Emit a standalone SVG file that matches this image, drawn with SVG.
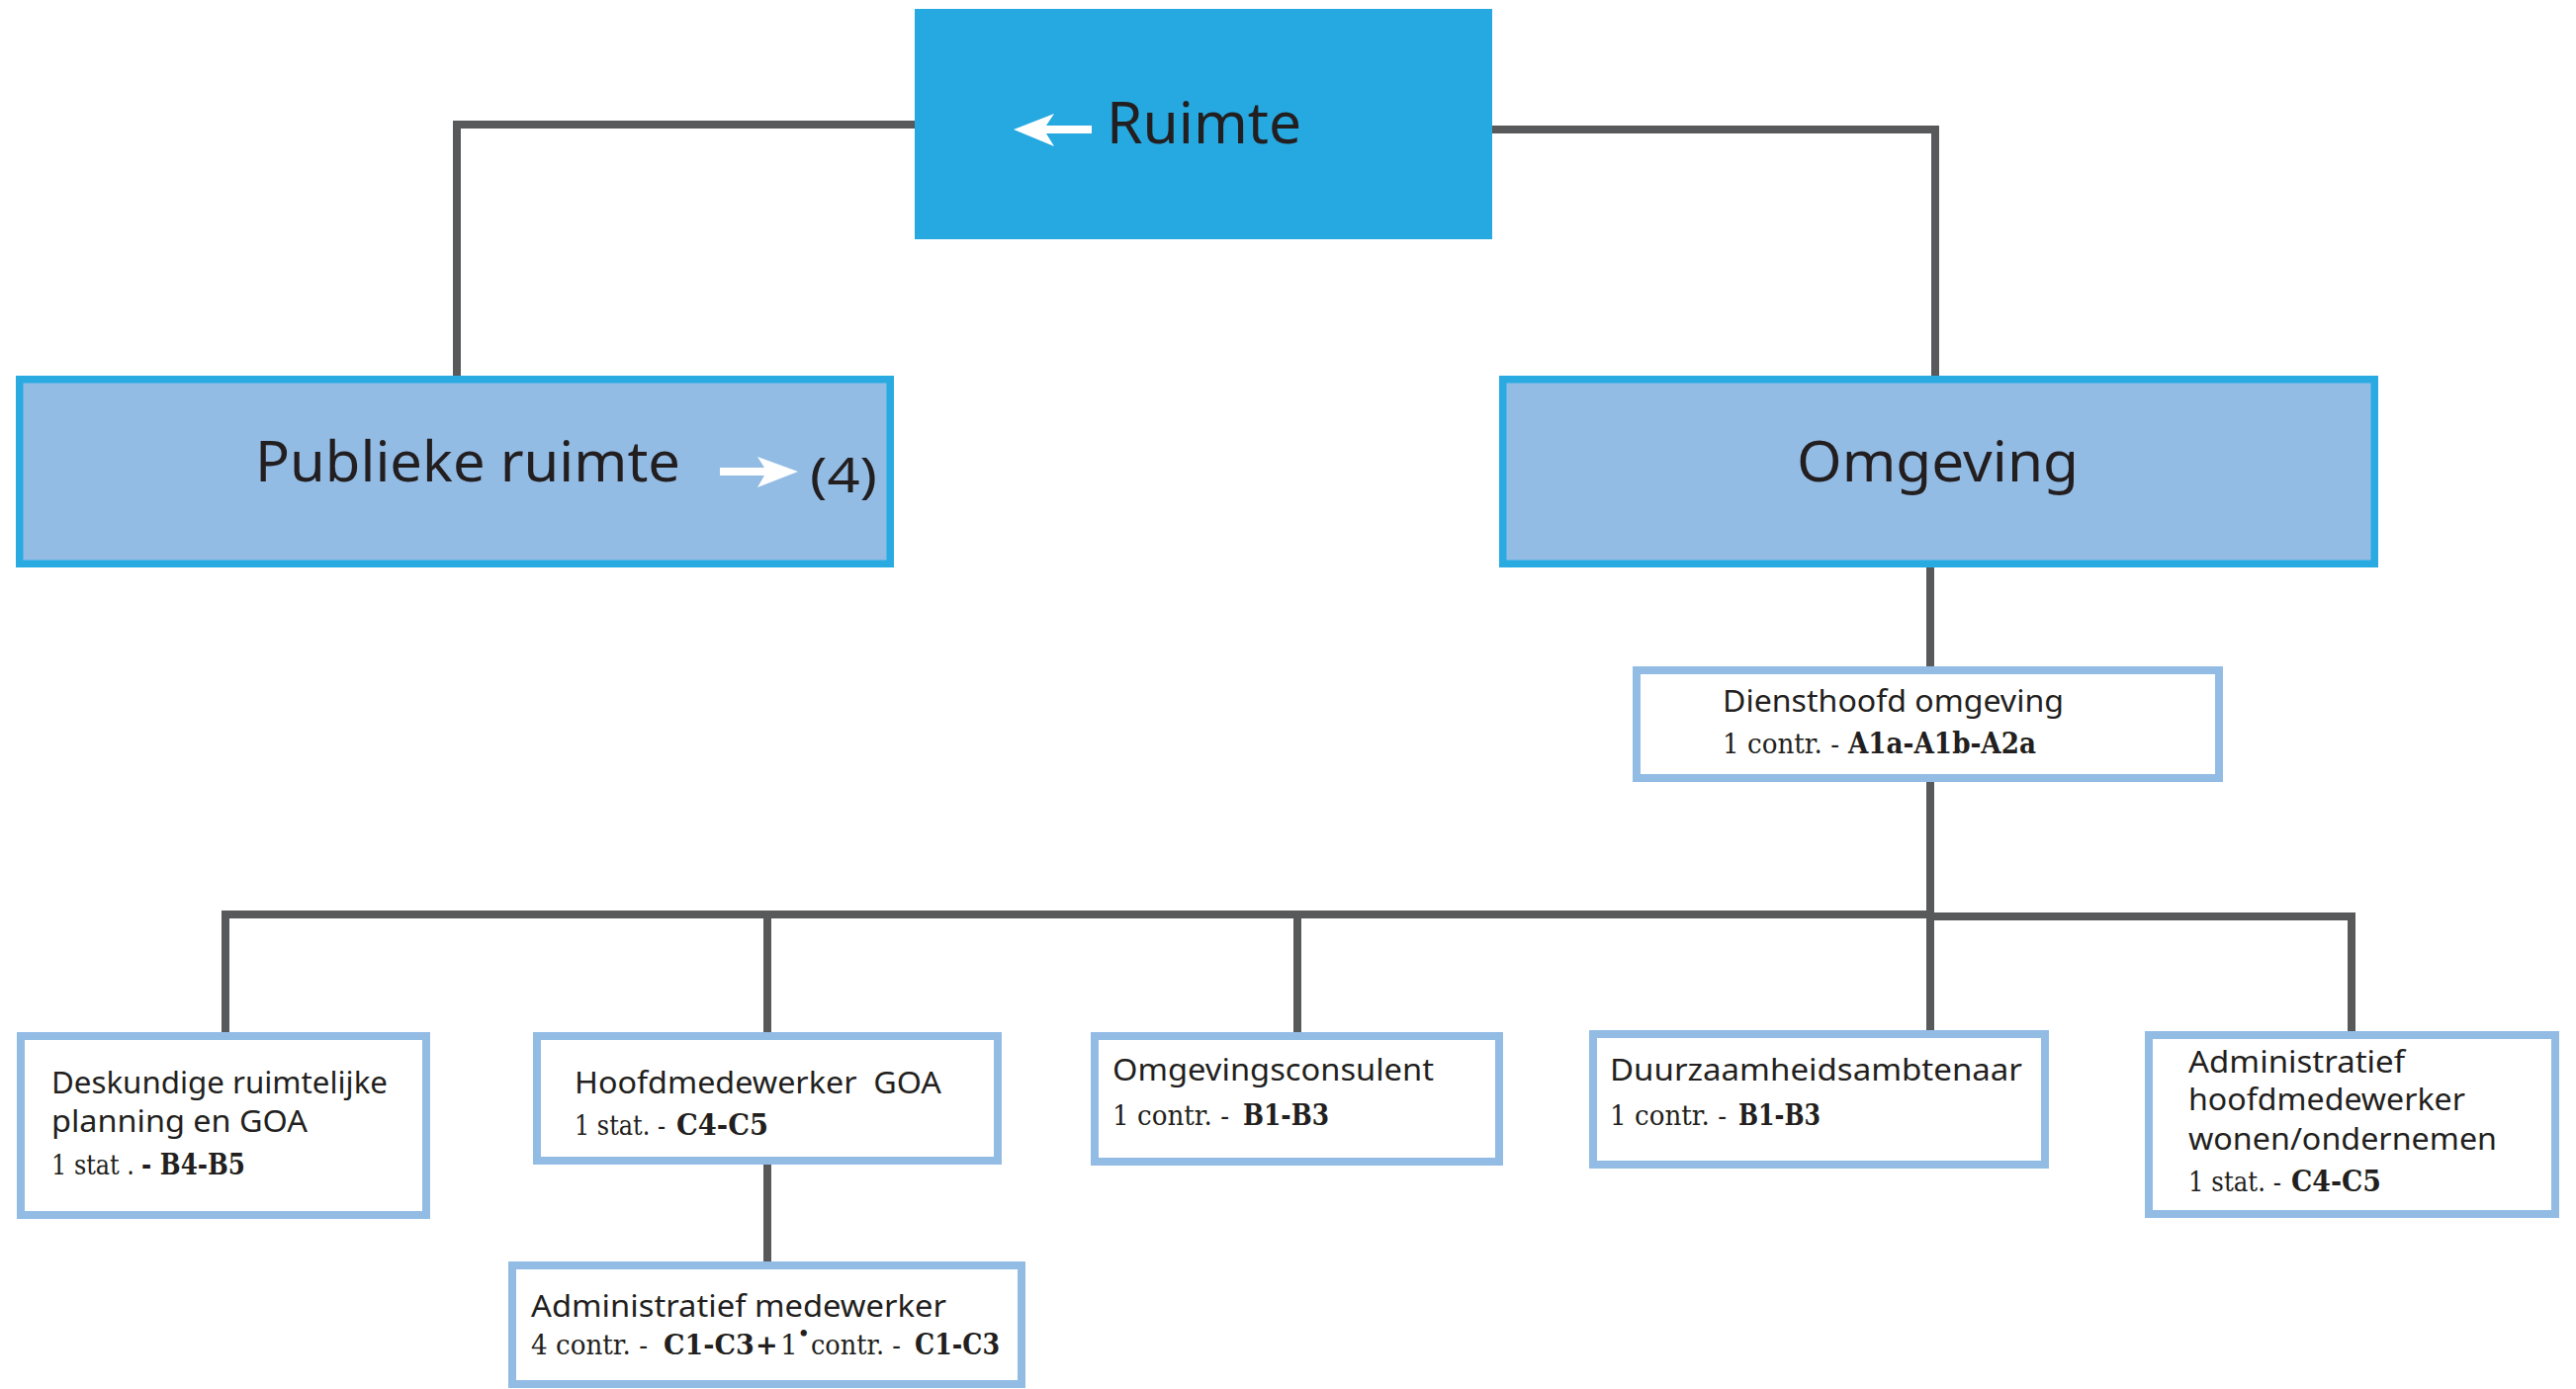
<svg xmlns="http://www.w3.org/2000/svg" width="2605" height="1405" viewBox="0 0 2605 1405">
<style>
.bg{fill:#ffffff}
.conn{fill:none;stroke:#58595B;stroke-width:8;stroke-linecap:butt;stroke-linejoin:miter}
.top{fill:#25A9E0}
.mid{fill:#93BCE5;stroke:#29ABE2;stroke-width:7.5}
.low{fill:#ffffff;stroke:#93BCE5;stroke-width:8}
.arrow{fill:#ffffff}
.big{font-family:"Noto Sans","Liberation Sans",sans-serif;fill:#231F20}
.lab{font-family:"Noto Sans","Liberation Sans",sans-serif;font-size:31px;fill:#231F20}
.ser{font-family:"DejaVu Serif","Liberation Serif",serif;font-size:28px;fill:#231F20}
.b{font-weight:bold;font-size:30px}
</style>
<rect class="bg" x="0" y="0" width="2605" height="1405"/>
<g id="connectors">
<path class="conn" d="M925,126 H462 V380"/>
<path class="conn" d="M1509,131 H1957 V380"/>
<path class="conn" d="M1952,574 V674"/>
<path class="conn" d="M1952,791 V1042"/>
<path class="conn" d="M228,1044 V925 H1952"/>
<path class="conn" d="M776,925 V1044"/>
<path class="conn" d="M1312,925 V1044"/>
<path class="conn" d="M1952,927 H2378 V1043"/>
<path class="conn" d="M776,1178 V1276"/>
</g>
<g id="ruimte">
<rect class="top" x="925" y="9" width="584" height="233"/>
<polygon class="arrow" points="1025,131 1066,115 1058,127 1104,127 1104,135 1058,135 1066,148"/>
<text class="big" x="1119" y="145" font-size="58" textLength="197" lengthAdjust="spacingAndGlyphs">Ruimte</text>
</g>
<g id="publieke-ruimte">
<rect class="mid" x="19.75" y="383.75" width="880.5" height="186.5"/>
<text class="big" x="258" y="487" font-size="56" textLength="430" lengthAdjust="spacingAndGlyphs">Publieke ruimte</text>
<polygon class="arrow" points="728,473 773,473 766,462 807,477 766,493 773,481 728,481"/>
<text class="big" x="819" y="498" font-size="50" textLength="68" lengthAdjust="spacingAndGlyphs">(4)</text>
</g>
<g id="omgeving">
<rect class="mid" x="1519.75" y="383.75" width="881.5" height="186.5"/>
<text class="big" x="1817" y="487" font-size="56" textLength="285" lengthAdjust="spacingAndGlyphs">Omgeving</text>
</g>
<g id="diensthoofd">
<rect class="low" x="1655" y="678" width="589" height="109"/>
<text class="lab" x="1742" y="720" font-size="32" textLength="345" lengthAdjust="spacingAndGlyphs">Diensthoofd omgeving</text>
<text class="ser" y="762"><tspan x="1742" textLength="118" lengthAdjust="spacingAndGlyphs">1 contr. -</tspan><tspan class="b" x="1869" textLength="190" lengthAdjust="spacingAndGlyphs">A1a-A1b-A2a</tspan></text>
</g>
<g id="deskundige">
<rect class="low" x="21" y="1048" width="410" height="181"/>
<text class="lab" x="52" y="1106" textLength="340" lengthAdjust="spacingAndGlyphs">Deskundige ruimtelijke</text>
<text class="lab" x="52" y="1145" textLength="259" lengthAdjust="spacingAndGlyphs">planning en GOA</text>
<text class="ser" y="1188"><tspan x="52" textLength="84" lengthAdjust="spacingAndGlyphs">1 stat .</tspan><tspan class="b" x="143" textLength="105" lengthAdjust="spacingAndGlyphs">- B4-B5</tspan></text>
</g>
<g id="hoofdmedewerker-goa">
<rect class="low" x="543" y="1048" width="466" height="126"/>
<text class="lab" x="581" y="1106" textLength="371" lengthAdjust="spacingAndGlyphs" xml:space="preserve">Hoofdmedewerker  GOA</text>
<text class="ser" y="1148"><tspan x="581" textLength="92" lengthAdjust="spacingAndGlyphs">1 stat. -</tspan><tspan class="b" x="684" textLength="93" lengthAdjust="spacingAndGlyphs">C4-C5</tspan></text>
</g>
<g id="administratief-medewerker">
<rect class="low" x="518" y="1280" width="515" height="120"/>
<text class="lab" x="537" y="1332" textLength="420" lengthAdjust="spacingAndGlyphs">Administratief medewerker</text>
<text class="ser" y="1370"><tspan x="537" textLength="118" lengthAdjust="spacingAndGlyphs">4 contr. -</tspan><tspan x="671" font-weight="bold" font-size="27">C1-C3</tspan><tspan x="764" font-weight="bold" font-size="27">+</tspan><tspan x="789">1</tspan><tspan x="807" y="1355" font-size="18" font-weight="bold">•</tspan><tspan x="820" y="1370" textLength="91" lengthAdjust="spacingAndGlyphs">contr. -</tspan><tspan class="b" x="925" textLength="86" lengthAdjust="spacingAndGlyphs">C1-C3</tspan></text>
</g>
<g id="omgevingsconsulent">
<rect class="low" x="1107" y="1048" width="409" height="127"/>
<text class="lab" x="1125" y="1093" textLength="325" lengthAdjust="spacingAndGlyphs">Omgevingsconsulent</text>
<text class="ser" y="1138"><tspan x="1125" textLength="118" lengthAdjust="spacingAndGlyphs">1 contr. -</tspan><tspan class="b" x="1257" textLength="87" lengthAdjust="spacingAndGlyphs">B1-B3</tspan></text>
</g>
<g id="duurzaamheidsambtenaar">
<rect class="low" x="1611" y="1046" width="457" height="132"/>
<text class="lab" x="1628" y="1093" textLength="417" lengthAdjust="spacingAndGlyphs">Duurzaamheidsambtenaar</text>
<text class="ser" y="1138"><tspan x="1628" textLength="118" lengthAdjust="spacingAndGlyphs">1 contr. -</tspan><tspan class="b" x="1758" textLength="83" lengthAdjust="spacingAndGlyphs">B1-B3</tspan></text>
</g>
<g id="administratief-hoofdmedewerker">
<rect class="low" x="2173" y="1047" width="411" height="181"/>
<text class="lab" x="2213" y="1085" textLength="219" lengthAdjust="spacingAndGlyphs">Administratief</text>
<text class="lab" x="2213" y="1123" textLength="280" lengthAdjust="spacingAndGlyphs">hoofdmedewerker</text>
<text class="lab" x="2213" y="1163" textLength="312" lengthAdjust="spacingAndGlyphs">wonen/ondernemen</text>
<text class="ser" y="1205"><tspan x="2213" textLength="94" lengthAdjust="spacingAndGlyphs">1 stat. -</tspan><tspan class="b" x="2317" textLength="91" lengthAdjust="spacingAndGlyphs">C4-C5</tspan></text>
</g>
</svg>
